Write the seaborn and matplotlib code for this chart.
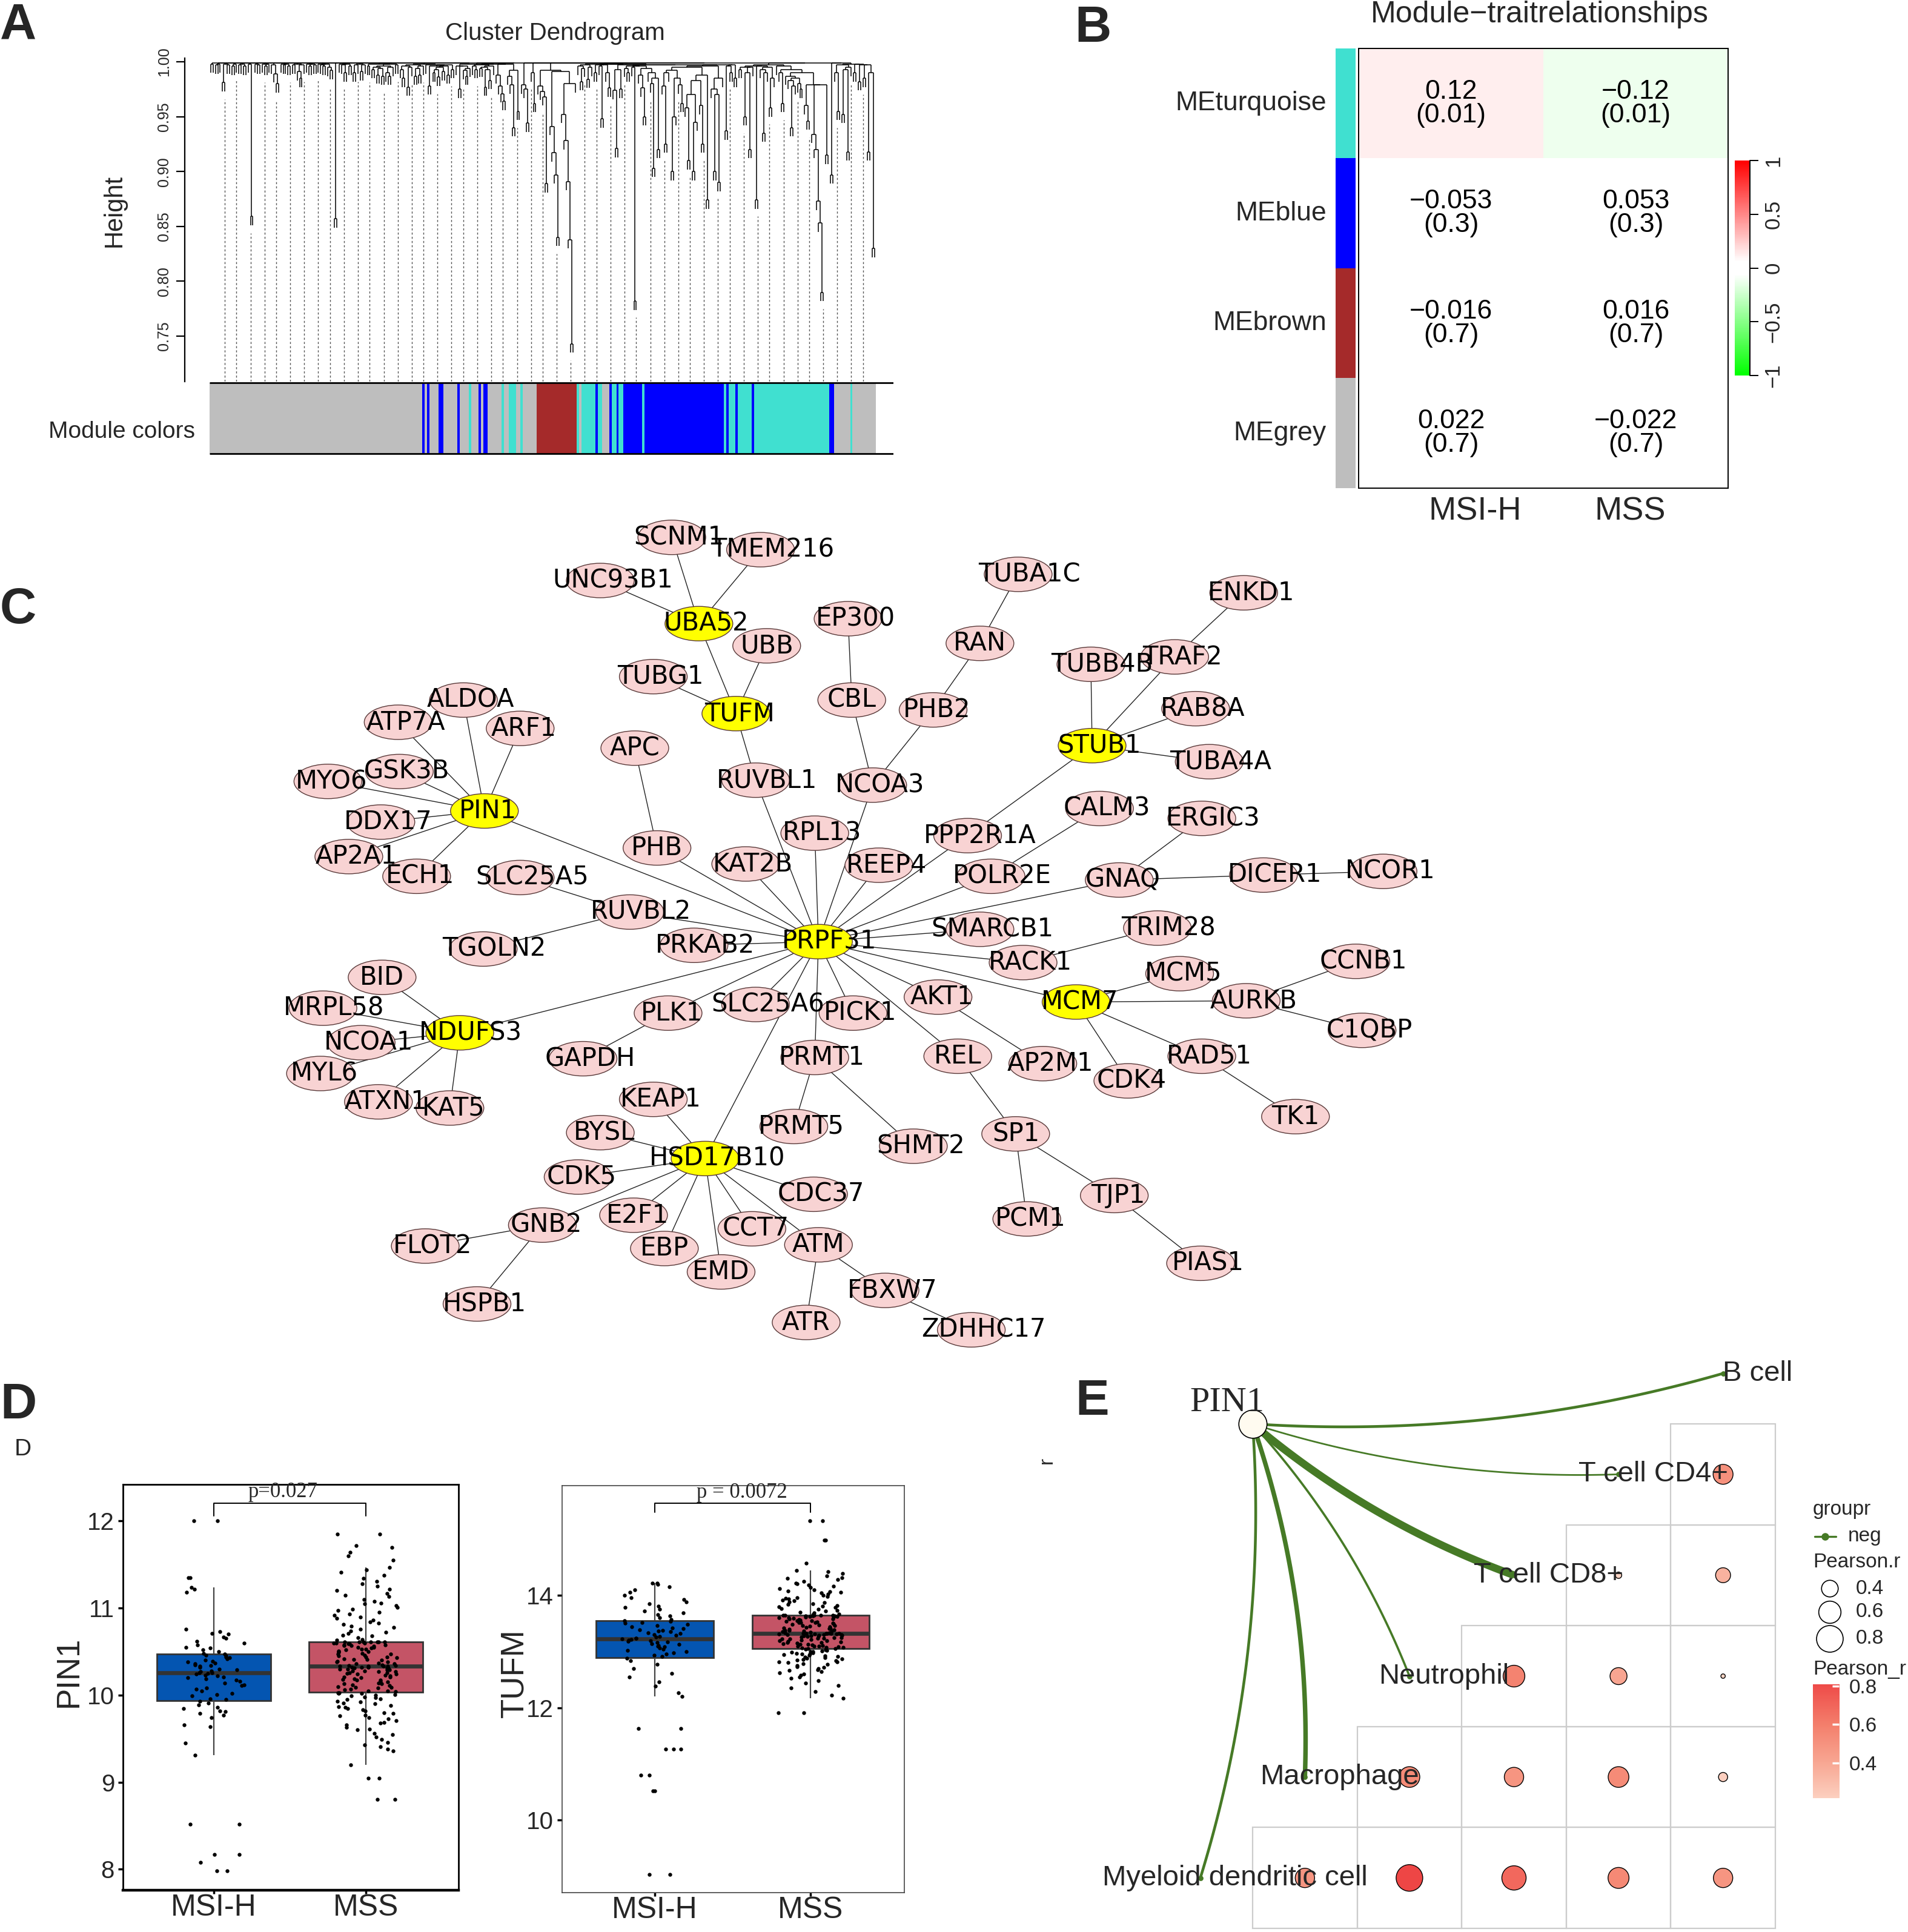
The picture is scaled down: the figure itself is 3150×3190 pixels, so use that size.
import sys
import numpy as np
import pandas as pd
import matplotlib
matplotlib.use("Agg")
import matplotlib.pyplot as plt
from matplotlib.collections import LineCollection
from matplotlib.colors import LinearSegmentedColormap, ListedColormap, Normalize
from matplotlib.patches import Ellipse, Rectangle
from matplotlib.lines import Line2D
import seaborn as sns

sys.setrecursionlimit(5000)

# ---------------- A: gene dendrogram ----------------
# merge height (x1000) between each pair of neighbouring leaves, left to right
dendro_gaps = [
    998, 999, 997, 998, 999, 981,
    998, 997, 999, 996, 998, 999, 997, 998, 996, 999, 998, 859,
    999, 998, 997, 999, 998, 996, 998, 999, 997, 989, 980,
    999, 998, 997, 998, 996, 999, 997, 998, 991, 985, 997,
    999, 998, 996, 998, 997, 999, 998, 997, 996, 998,
    995, 992, 999, 857, 999, 998,
    997, 990, 998, 996, 999, 990, 997, 998, 991, 997, 999, 996, 998, 993, 995,
    988, 994, 987, 996, 990, 987, 995, 998, 997, 999,
    993, 985, 996, 977, 995, 997, 987, 994, 988, 996, 998, 997, 978,
    996, 990, 993, 986, 995, 991, 996, 988, 997, 993, 999, 996, 975,
    996, 992, 987, 994, 998, 996, 993, 997, 994, 995, 977,
    993, 983, 996, 998, 988, 978, 971, 964, 998, 987, 979, 940, 992, 955,
    999, 979, 975, 944, 999, 990, 962, 999,
    978, 973, 968, 889, 992, 941, 917, 897, 840, 991, 952, 928, 891, 838, 743, 980, 999,
    996, 982, 994, 997, 984, 995, 998, 990, 997, 996, 948, 997,
    990, 976, 998, 974, 921, 993, 975, 997, 994, 990, 996, 995, 782,
    996, 988, 976, 950, 994, 990, 980, 903, 985, 920, 997, 978, 925, 990,
    992, 900, 950, 985, 979, 962, 995, 958, 910, 970, 900, 945, 983, 960, 925, 988, 874,
    996, 975, 900, 970, 890, 985, 997, 937, 996,
    990, 997, 985, 999, 993, 995, 950, 990, 920, 995, 996, 874, 996,
    993, 935, 990, 995, 958, 985, 997,
    996, 990, 962, 993, 987, 983, 940, 978, 985, 980, 975, 990,
    960, 946, 979, 934, 920, 873, 853, 790, 979, 915, 999, 897, 999,
    990, 955, 997, 952, 993, 918, 995, 998, 990, 998, 982, 997, 985, 997,
    918, 990, 830,
]
module_run_colors = ["grey", "blue", "grey", "blue", "grey", "blue", "grey", "blue", "grey", "turquoise",
                     "grey", "blue", "grey", "blue", "grey", "turquoise", "grey", "turquoise", "grey", "turquoise",
                     "grey", "brown", "turquoise", "grey", "turquoise", "blue", "turquoise", "grey", "blue", "turquoise",
                     "blue", "turquoise", "blue", "turquoise", "blue", "turquoise", "blue", "turquoise", "blue", "turquoise",
                     "blue", "turquoise", "blue", "grey", "turquoise", "grey"]
module_run_lengths = [91, 1, 1, 1, 4, 2, 6, 1, 4, 1, 3, 1, 1, 2, 6, 1, 2, 3, 2, 1, 6, 17, 1, 1, 6, 1, 2, 3, 1, 2,
                      1, 2, 8, 1, 34, 1, 1, 3, 1, 6, 1, 32, 2, 7, 1, 10]
module_palette = {"grey": "#BEBEBE", "blue": "#0000FF", "turquoise": "#40E0D0", "brown": "#A52A2A"}

# ---------------- B: module-trait ----------------
trait_names = ["MSI-H", "MSS"]
module_names = ["MEturquoise", "MEblue", "MEbrown", "MEgrey"]
module_colors = ["turquoise", "blue", "brown", "grey"]
module_cor = [[0.12, -0.12], [-0.053, 0.053], [-0.016, 0.016], [0.022, -0.022]]
module_p = [["0.01", "0.01"], ["0.3", "0.3"], ["0.7", "0.7"], ["0.7", "0.7"]]

# ---------------- C: PPI network (layout) ----------------
gene_names = ["SCNM1", "TMEM216", "UNC93B1", "UBA52", "UBB", "TUBG1", "TUFM", "EP300", "CBL", "TUBA1C",
              "RAN", "PHB2", "ENKD1", "TRAF2", "TUBB4B", "RAB8A", "STUB1", "TUBA4A", "ALDOA", "ATP7A",
              "ARF1", "APC", "GSK3B", "MYO6", "PIN1", "DDX17", "AP2A1", "ECH1", "RUVBL1", "NCOA3",
              "RPL13", "PHB", "KAT2B", "PPP2R1A", "CALM3", "ERGIC3", "REEP4", "POLR2E", "GNAQ", "DICER1",
              "NCOR1", "SLC25A5", "RUVBL2", "TGOLN2", "PRKAB2", "PRPF31", "SMARCB1", "TRIM28", "RACK1", "BID",
              "MRPL58", "NDUFS3", "NCOA1", "MYL6", "ATXN1", "KAT5", "PLK1", "SLC25A6", "PICK1", "GAPDH",
              "AKT1", "MCM5", "MCM7", "CCNB1", "AURKB", "C1QBP", "REL", "AP2M1", "RAD51", "CDK4",
              "TK1", "PRMT1", "KEAP1", "BYSL", "PRMT5", "SHMT2", "SP1", "HSD17B10", "CDK5", "CDC37",
              "TJP1", "E2F1", "GNB2", "CCT7", "PCM1", "FLOT2", "EBP", "ATM", "EMD", "PIAS1",
              "FBXW7", "HSPB1", "ATR", "ZDHHC17"]
gene_x = [545, 617, 487, 567, 622, 530, 597, 688, 691, 826,
          795, 757, 1009, 953, 885, 970, 886, 981, 376, 323,
          422, 515, 324, 266, 393, 309, 283, 338, 613, 708,
          661, 533, 605, 785, 892, 975, 713, 804, 908, 1025,
          1122, 422, 511, 392, 563, 664, 795, 939, 830, 310,
          262, 373, 293, 260, 307, 365, 542, 613, 692, 473,
          761, 957, 873, 1100, 1011, 1105, 777, 846, 975, 915,
          1051, 661, 530, 487, 644, 741, 824, 572, 469, 660,
          904, 514, 440, 610, 833, 345, 539, 664, 585, 974,
          718, 387, 654, 788]
gene_y = [436, 446, 471, 506, 524, 549, 579, 502, 568, 466,
          522, 576, 481, 533, 539, 575, 605, 618, 568, 586,
          591, 607, 626, 634, 658, 667, 695, 711, 633, 637,
          676, 688, 701, 678, 656, 664, 702, 711, 714, 710,
          707, 712, 740, 770, 767, 764, 754, 753, 781, 793,
          818, 838, 846, 871, 894, 899, 822, 815, 822, 859,
          809, 790, 813, 780, 812, 836, 857, 863, 857, 877,
          906, 858, 892, 919, 914, 930, 920, 940, 955, 969,
          970, 986, 994, 997, 989, 1011, 1013, 1010, 1032, 1025,
          1047, 1058, 1073, 1079]
hub_genes = ["UBA52", "TUFM", "STUB1", "PIN1", "PRPF31", "NDUFS3", "MCM7", "HSD17B10"]
ppi_edges = [
    ("PIN1", "ALDOA"), ("PIN1", "ATP7A"), ("PIN1", "ARF1"), ("PIN1", "GSK3B"), ("PIN1", "MYO6"),
    ("PIN1", "DDX17"), ("PIN1", "AP2A1"), ("PIN1", "ECH1"), ("PIN1", "PRPF31"),
    ("UBA52", "SCNM1"), ("UBA52", "TMEM216"), ("UBA52", "UNC93B1"), ("UBA52", "TUFM"),
    ("TUFM", "TUBG1"), ("TUFM", "UBB"), ("TUFM", "RUVBL1"), ("RUVBL1", "PRPF31"),
    ("APC", "PHB"), ("PHB", "PRPF31"), ("EP300", "CBL"), ("CBL", "NCOA3"), ("NCOA3", "PRPF31"),
    ("PHB2", "NCOA3"), ("RAN", "PHB2"), ("TUBA1C", "RAN"),
    ("STUB1", "TUBB4B"), ("STUB1", "TRAF2"), ("STUB1", "RAB8A"), ("STUB1", "TUBA4A"),
    ("STUB1", "PPP2R1A"), ("TRAF2", "ENKD1"), ("PPP2R1A", "PRPF31"), ("CALM3", "POLR2E"),
    ("POLR2E", "PRPF31"), ("ERGIC3", "GNAQ"), ("GNAQ", "DICER1"), ("DICER1", "NCOR1"),
    ("GNAQ", "PRPF31"), ("REEP4", "PRPF31"), ("RPL13", "PRPF31"), ("KAT2B", "PRPF31"),
    ("SLC25A5", "RUVBL2"), ("RUVBL2", "PRPF31"), ("RUVBL2", "TGOLN2"), ("PRKAB2", "PRPF31"),
    ("SMARCB1", "PRPF31"), ("RACK1", "PRPF31"), ("RACK1", "TRIM28"), ("MCM7", "PRPF31"),
    ("AKT1", "PRPF31"), ("AKT1", "AP2M1"), ("REL", "PRPF31"), ("PRMT1", "SHMT2"),
    ("PRMT1", "PRMT5"), ("PRMT1", "PRPF31"), ("MCM7", "MCM5"), ("MCM7", "AURKB"),
    ("MCM7", "CDK4"), ("MCM7", "RAD51"), ("AURKB", "CCNB1"), ("AURKB", "C1QBP"), ("RAD51", "TK1"),
    ("REL", "SP1"), ("SP1", "PCM1"), ("SP1", "TJP1"), ("TJP1", "PIAS1"),
    ("PICK1", "PRPF31"), ("SLC25A6", "PRPF31"), ("PLK1", "PRPF31"), ("PLK1", "GAPDH"),
    ("NDUFS3", "BID"), ("NDUFS3", "MRPL58"), ("NDUFS3", "NCOA1"), ("NDUFS3", "MYL6"),
    ("NDUFS3", "ATXN1"), ("NDUFS3", "KAT5"), ("NDUFS3", "PRPF31"),
    ("HSD17B10", "KEAP1"), ("HSD17B10", "BYSL"), ("HSD17B10", "CDK5"), ("HSD17B10", "GNB2"),
    ("HSD17B10", "E2F1"), ("HSD17B10", "EBP"), ("HSD17B10", "EMD"), ("HSD17B10", "CCT7"),
    ("HSD17B10", "ATM"), ("HSD17B10", "CDC37"), ("HSD17B10", "PRPF31"),
    ("GNB2", "FLOT2"), ("GNB2", "HSPB1"), ("ATM", "ATR"), ("ATM", "FBXW7"), ("FBXW7", "ZDHHC17"),
]

# ---------------- D: expression by MSI status ----------------
groups = ["MSI-H", "MSS"]
group_colors = {"MSI-H": "#0455B1", "MSS": "#C45466"}
pin1_msih = [7.98, 7.98, 8.08, 8.17, 8.17, 8.52, 8.52, 9.31, 9.45, 9.64, 9.66, 9.74, 9.77, 9.79,
             9.81, 9.82, 9.85, 9.86, 9.89, 9.91, 9.93, 9.95, 9.96, 9.99, 10.01, 10.02, 10.05,
             10.07, 10.08, 10.11, 10.12, 10.14, 10.16, 10.17, 10.19, 10.20, 10.21, 10.22, 10.23,
             10.24, 10.25, 10.26, 10.26, 10.27, 10.28, 10.29, 10.30, 10.32, 10.33, 10.34, 10.35,
             10.36, 10.37, 10.38, 10.39, 10.40, 10.42, 10.43, 10.44, 10.45, 10.46, 10.47, 10.48,
             10.50, 10.52, 10.54, 10.55, 10.58, 10.60, 10.62, 10.65, 10.67, 10.70, 10.71, 10.73,
             10.76, 11.18, 11.22, 11.24, 11.35, 11.35, 12.00, 12.00]
pin1_mss = [8.80, 8.80, 9.05, 9.05, 9.20, 9.36, 9.38, 9.41, 9.43, 9.46,
            9.49, 9.52, 9.55, 9.56, 9.60, 9.61, 9.63, 9.66, 9.68, 9.69,
            9.71, 9.73, 9.74, 9.76, 9.77, 9.79, 9.80, 9.82, 9.83, 9.85,
            9.86, 9.87, 9.88, 9.90, 9.91, 9.92, 9.93, 9.95, 9.96, 9.97,
            9.98, 9.99, 10.00, 10.01, 10.02, 10.02, 10.03, 10.03,
            10.04, 10.05, 10.05, 10.06, 10.07, 10.08, 10.09, 10.09, 10.10, 10.11,
            10.12, 10.13, 10.13, 10.14, 10.15, 10.16, 10.17, 10.17, 10.18, 10.19,
            10.20, 10.21, 10.21, 10.22, 10.23, 10.24, 10.24, 10.25, 10.26, 10.26,
            10.27, 10.27, 10.28, 10.28, 10.29, 10.29, 10.30, 10.30, 10.31, 10.31,
            10.31, 10.32, 10.32, 10.32, 10.33, 10.33, 10.33, 10.33,
            10.34, 10.34, 10.35, 10.36, 10.36, 10.37, 10.38, 10.38, 10.39, 10.40,
            10.41, 10.41, 10.42, 10.43, 10.44, 10.44, 10.45, 10.46, 10.47, 10.47,
            10.48, 10.49, 10.50, 10.50, 10.51, 10.52, 10.53, 10.53, 10.54, 10.55,
            10.55, 10.56, 10.57, 10.57, 10.58, 10.58, 10.59, 10.59, 10.60, 10.60,
            10.60, 10.61, 10.61, 10.61, 10.61, 10.61, 10.61, 10.61,
            10.63, 10.64, 10.66, 10.68, 10.69, 10.71, 10.72, 10.74, 10.76, 10.78,
            10.79, 10.81, 10.83, 10.84, 10.86, 10.88, 10.90, 10.92, 10.93, 10.95,
            10.97, 10.99, 11.01, 11.03, 11.05, 11.06, 11.08, 11.10, 11.13, 11.15,
            11.17, 11.20, 11.22, 11.25, 11.28, 11.31, 11.34, 11.38, 11.41, 11.44,
            11.47, 11.55, 11.60, 11.64, 11.70, 11.72, 11.85, 11.85]
tufm_msih = [9.03, 9.03, 10.52, 10.52, 10.80, 10.80, 11.26, 11.26, 11.26, 11.63,
             11.63, 12.20, 12.26, 12.38, 12.46, 12.55, 12.61, 12.70, 12.77, 12.84,
             12.88, 12.91, 12.93, 12.95, 12.98, 13.00, 13.02, 13.04, 13.06, 13.08,
             13.10, 13.11, 13.13, 13.14, 13.16, 13.17, 13.18, 13.19, 13.20, 13.21,
             13.22, 13.23, 13.24, 13.26, 13.27, 13.29, 13.30, 13.32, 13.33, 13.35,
             13.36, 13.38, 13.39, 13.41, 13.42, 13.44, 13.46, 13.48, 13.50, 13.52,
             13.54, 13.55, 13.57, 13.60, 13.63, 13.66, 13.69, 13.72, 13.75, 13.78,
             13.81, 13.85, 13.88, 13.92, 13.96, 14.00, 14.05, 14.10, 14.15, 14.19,
             14.22, 14.22]
tufm_mss = [11.91, 11.91, 12.17, 12.22, 12.29, 12.35, 12.40, 12.44, 12.48, 12.52,
            12.55, 12.58, 12.60, 12.62, 12.64, 12.66, 12.68, 12.70, 12.72, 12.73,
            12.75, 12.77, 12.78, 12.80, 12.81, 12.82, 12.84, 12.85, 12.86, 12.87,
            12.88, 12.89, 12.90, 12.91, 12.92, 12.93, 12.94, 12.95, 12.96, 12.97,
            12.98, 12.99, 13.00, 13.00, 13.01, 13.02, 13.03, 13.04,
            13.05, 13.05, 13.06, 13.07, 13.07, 13.08, 13.09, 13.10, 13.10, 13.11,
            13.12, 13.13, 13.13, 13.14, 13.15, 13.16, 13.16, 13.17, 13.18, 13.19,
            13.19, 13.20, 13.21, 13.22, 13.22, 13.23, 13.24, 13.25, 13.25, 13.26,
            13.27, 13.27, 13.28, 13.28, 13.29, 13.29, 13.30, 13.30, 13.30, 13.31,
            13.31, 13.31, 13.32, 13.32, 13.32, 13.32, 13.32, 13.32,
            13.33, 13.33, 13.34, 13.35, 13.36, 13.36, 13.37, 13.38, 13.39, 13.40,
            13.41, 13.41, 13.42, 13.43, 13.44, 13.45, 13.46, 13.46, 13.47, 13.48,
            13.49, 13.50, 13.51, 13.51, 13.52, 13.53, 13.54, 13.55, 13.55, 13.56,
            13.57, 13.58, 13.58, 13.59, 13.60, 13.60, 13.61, 13.61, 13.62, 13.62,
            13.63, 13.63, 13.63, 13.64, 13.64, 13.64, 13.64, 13.64,
            13.66, 13.67, 13.69, 13.70, 13.72, 13.73, 13.75, 13.76, 13.78, 13.79,
            13.81, 13.82, 13.84, 13.85, 13.87, 13.88, 13.90, 13.91, 13.93, 13.95,
            13.96, 13.98, 14.00, 14.02, 14.04, 14.06, 14.08, 14.10, 14.12, 14.14,
            14.16, 14.18, 14.20, 14.22, 14.25, 14.28, 14.31, 14.35, 14.39, 14.42,
            14.44, 14.57, 14.98, 14.98, 15.33, 15.33, 14.30, 14.05]
pin1_p = "p=0.027"
tufm_p = "p = 0.0072"

# ---------------- E: immune cell correlation ----------------
immune_cells = ["B cell", "T cell CD4+", "T cell CD8+", "Neutrophil", "Macrophage", "Myeloid dendritic cell"]
pearson_r = [[],
             [0.51],
             [0.35, 0.18],
             [0.16, 0.41, 0.58],
             [0.22, 0.54, 0.49, 0.54],
             [0.49, 0.55, 0.69, 0.83, 0.49]]
link_strength = [0.35, 0.21, 0.96, 0.28, 0.57, 0.35]

# ---------------- figure ----------------
sns.set_theme(style="white")
plt.rcParams["font.family"] = ["Liberation Sans", "DejaVu Sans"]
plt.rcParams["axes.unicode_minus"] = True

W, H = 3150, 3190
fig = plt.figure(figsize=(W / 200, H / 200), dpi=200)
fig.patch.set_facecolor("white")


def box(x0, y0, x1, y1):
    return fig.add_axes([x0 / W, 1 - y1 / H, (x1 - x0) / W, (y1 - y0) / H])


def ftext(x, y, s, **kw):
    return fig.text(x / W, 1 - y / H, s, **kw)


MINUS = "\u2212"

# ---- A ----
gaps = np.array(dendro_gaps) / 1000.0
n_leaf = len(gaps) + 1
hang = 0.008
leaf_bottom = np.zeros(n_leaf)
segs = []


def build(lo, hi):
    if lo == hi:
        return lo + 0.5, None
    k = lo + int(np.argmax(gaps[lo:hi]))
    h = gaps[k]
    xl, hl = build(lo, k)
    xr, hr = build(k + 1, hi)
    for x_, h_, leaf in ((xl, hl, lo), (xr, hr, hi)):
        if h_ is None:
            h_ = h - hang
            leaf_bottom[leaf] = h_
        segs.append([(x_, h_), (x_, h)])
    segs.append([(xl, h), (xr, h)])
    return (xl + xr) / 2, h


build(0, n_leaf - 1)
per = (1446 - 346) / n_leaf
xlo, xhi = -(346 - 305) / per, n_leaf + (1475 - 1446) / per
ylo = 1 - (630 - 102) / 1812
yhi = 1 + (102 - 96) / 1812

ax_a = box(305, 96, 1475, 630)
ax_a.add_collection(LineCollection(segs, colors="black", linewidths=0.55))
guide_idx = np.round(np.arange(1, 50) * n_leaf / 50).astype(int)
ax_a.vlines(guide_idx + 0.5, ylo, leaf_bottom[guide_idx] - 0.007, colors="#555555",
            linestyles=(0, (2.5, 2.5)), linewidth=0.5)
ax_a.set_xlim(xlo, xhi)
ax_a.set_ylim(ylo, yhi)
for s in ["top", "right", "bottom"]:
    ax_a.spines[s].set_visible(False)
ax_a.spines["left"].set_color("black")
ax_a.spines["left"].set_linewidth(0.8)
ax_a.set_xticks([])
ax_a.set_yticks([0.75, 0.80, 0.85, 0.90, 0.95, 1.00])
ax_a.set_yticklabels(["0.75", "0.80", "0.85", "0.90", "0.95", "1.00"], rotation=90, va="center", fontsize=9)
ax_a.tick_params(axis="y", length=5, width=0.8, pad=3, color="black", left=True)
ax_a.set_facecolor("none")

ax_m = box(305, 630, 1475, 751)
scale = n_leaf / sum(module_run_lengths)
starts = np.concatenate([[0], np.cumsum(module_run_lengths)[:-1]]) * scale
ax_m.bar(starts, [1] * len(starts), width=np.array(module_run_lengths) * scale, align="edge",
         color=[module_palette[c] for c in module_run_colors], linewidth=0)
ax_m.hlines([0, 1], 0, xhi, colors="black", linewidth=1.0)
ax_m.set_xlim(xlo, xhi)
ax_m.set_ylim(-0.02, 1.02)
ax_m.axis("off")

ftext(916, 55, "Cluster Dendrogram", ha="center", va="center", fontsize=14.5)
ftext(189, 348, "Height", ha="center", va="center", rotation=90, fontsize=15)
ftext(201, 713, "Module colors", ha="center", va="center", fontsize=14)

# ---- B ----
gwr = LinearSegmentedColormap.from_list(
    "gwr", [(0, "#00FF00"), (0.47, "#FFFFFF"), (0.53, "#FFFFFF"), (1, "#FF0000")])
cor_df = pd.DataFrame(module_cor, index=module_names, columns=trait_names)
annot = np.array([[f"{c:g}".replace("-", MINUS) + f"\n({p})" for c, p in zip(cr, pr)]
                  for cr, pr in zip(module_cor, module_p)])
ax_b = box(2243, 80, 2853, 806)
sns.heatmap(cor_df, cmap=gwr, vmin=-1, vmax=1, annot=annot, fmt="", cbar=False,
            annot_kws={"fontsize": 16, "color": "black", "linespacing": 0.95}, ax=ax_b)
ax_b.set_yticks([])
ax_b.set_xticks([0.63, 1.47])
ax_b.set_xticklabels(trait_names, fontsize=19.5, rotation=0)
ax_b.tick_params(axis="x", length=0, pad=5)
ax_b.set_xlabel("")
ax_b.set_ylabel("")
for s in ax_b.spines.values():
    s.set_visible(True)
    s.set_color("black")
    s.set_linewidth(0.7)

ax_s = box(2205, 80, 2238, 806)
strip_df = pd.DataFrame({"m": np.arange(len(module_names))}, index=module_names)
sns.heatmap(strip_df, cmap=ListedColormap([module_palette[c] for c in module_colors]),
            vmin=-0.5, vmax=len(module_names) - 0.5, cbar=False, xticklabels=False, yticklabels=True, ax=ax_s)
ax_s.set_ylabel("")
ax_s.tick_params(axis="y", length=0, pad=5.5, labelsize=16)
for lab in ax_s.get_yticklabels():
    lab.set_rotation(0)

cax_b = box(2864, 265, 2889, 620)
cb = fig.colorbar(plt.cm.ScalarMappable(norm=Normalize(-1, 1), cmap=gwr), cax=cax_b,
                  ticks=[-1, -0.5, 0, 0.5, 1])
cb.outline.set_visible(False)
cb.ax.set_yticklabels([MINUS + "1", MINUS + "0.5", "0", "0.5", "1"], rotation=90, va="center", fontsize=12.5)
cb.ax.tick_params(length=5, width=0.7, pad=3, color="black")
cb.ax.add_line(Line2D([1, 1], [0, 1], transform=cb.ax.transAxes, color="black", linewidth=0.7, clip_on=False))
ftext(2542, 24, "Module" + MINUS + "traitrelationships", ha="center", va="center", fontsize=18)

# ---- C ----
ax_c = box(400, 840, 2450, 2260)
ax_c.set_xlim(400 / 2.035, 2450 / 2.035)
ax_c.set_ylim(2260 / 2.035, 840 / 2.035)
ax_c.axis("off")
pos = {g: (x, y) for g, x, y in zip(gene_names, gene_x, gene_y)}
ax_c.add_collection(LineCollection([[pos[a], pos[b]] for a, b in ppi_edges],
                                   colors="#222222", linewidths=0.5, zorder=1))
for g in gene_names:
    x, y = pos[g]
    face = "#FFFF00" if g in hub_genes else "#F8D3D3"
    ax_c.add_patch(Ellipse((x, y), 55, 28, facecolor=face, edgecolor="#5A3A3A", linewidth=0.5, zorder=2))
    dx = min(10, max(0, len(g) - 3) * 3)
    ax_c.text(x + dx, y, g, ha="center", va="center", fontsize=15,
              family=["DejaVu Sans"], color="black", zorder=3)

# ---- D ----
np.random.seed(3)


def expr_panel(ax, msih, mss):
    df = pd.DataFrame({"group": ["MSI-H"] * len(msih) + ["MSS"] * len(mss), "value": msih + mss})
    sns.boxplot(data=df, x="group", y="value", hue="group", order=groups, hue_order=groups,
                palette=group_colors, saturation=1, width=0.75, showcaps=False, showfliers=False,
                linecolor="#333333", linewidth=1.0, legend=False,
                medianprops={"linewidth": 2.4, "color": "#333333"},
                whiskerprops={"linewidth": 0.8, "color": "#444444"}, ax=ax)
    sns.stripplot(data=df, x="group", y="value", order=groups, color="black", size=2.3,
                  jitter=0.21, ax=ax, zorder=3)
    ax.set_xlabel("")
    ax.set_ylabel("")
    ax.tick_params(axis="x", length=2, pad=0, labelsize=18, bottom=True, color="black")
    ax.tick_params(axis="y", length=3, pad=2, labelsize=14.5, left=True, color="black")


ax_d1 = box(203, 2451, 757, 3121)
expr_panel(ax_d1, pin1_msih, pin1_mss)
ax_d1.set_xlim(-0.598, 1.609)
ax_d1.set_ylim(7.76, 12.42)
ax_d1.set_yticks([8, 9, 10, 11, 12])
for s in ax_d1.spines.values():
    s.set_visible(True)
    s.set_color("black")
    s.set_linewidth(1.0)
ax_d1.spines["bottom"].set_linewidth(1.6)
ax_d1.plot([0, 0, 1, 1], [12.06, 12.207, 12.207, 12.06], color="black", linewidth=0.7)
ax_d1.text(0.454, 12.215, pin1_p, ha="center", va="bottom", fontsize=12.5,
           family=["Liberation Serif", "DejaVu Serif"])

ax_d2 = box(928, 2453, 1493, 3125)
expr_panel(ax_d2, tufm_msih, tufm_mss)
ax_d2.set_xlim(-0.594, 1.60)
ax_d2.set_ylim(8.71, 15.95)
ax_d2.set_yticks([10, 12, 14])
for s in ax_d2.spines.values():
    s.set_visible(True)
    s.set_color("#444444")
    s.set_linewidth(0.6)
ax_d2.plot([0, 0, 1, 1], [15.48, 15.64, 15.64, 15.48], color="black", linewidth=0.7)
ax_d2.text(0.56, 15.65, tufm_p, ha="center", va="bottom", fontsize=12.5,
           family=["Liberation Serif", "DejaVu Serif"])

ftext(114, 2760, "PIN1", ha="center", va="center", rotation=90, fontsize=19)
ftext(849, 2763, "TUFM", ha="center", va="center", rotation=90, fontsize=19)
ftext(38, 2393, "D", ha="center", va="center", fontsize=14)

# ---- E ----
cw, rh = 172.6, 166.6
ax_e = box(1800, 2200, 3150, 3190)
n_cell = len(immune_cells)
cell_rows = []
for i in range(1, n_cell):
    for j in range(i):
        ax_e.add_patch(Rectangle((n_cell - 2 - j, i - 1), 1, 1, fill=False, edgecolor="#CCCCCC",
                                 linewidth=0.8, zorder=1))
        cell_rows.append({"x": n_cell - 1.5 - j, "y": i - 0.5, "r": pearson_r[i][j]})
cell_df = pd.DataFrame(cell_rows)
cmap_e = LinearSegmentedColormap.from_list(
    "pr", [(0, "#FDD3C3"), (0.3125, "#F8A793"), (0.625, "#F47F6C"), (1, "#EE4444")])
link_green = "#467A26"
start = np.array([0.0, 0.0])
t = np.linspace(0, 1, 100)[:, None]
for k, name in enumerate(immune_cells):
    end = np.array([n_cell - 1.5 - k, k - 0.5])
    d = end - start
    nrm = np.array([-d[1], d[0]])
    if nrm.sum() < 0:
        nrm = -nrm
    ctrl = (start + end) / 2 + 0.09 * nrm
    pts = (1 - t) ** 2 * start + 2 * (1 - t) * t * ctrl + t ** 2 * end
    ax_e.plot(pts[:, 0], pts[:, 1], color=link_green, linewidth=4.7 * link_strength[k],
              solid_capstyle="butt", zorder=2)
    ax_e.scatter([end[0]], [end[1]], s=10, color=link_green, zorder=2, linewidths=0)
    ax_e.text(end[0] + 0.33, end[1], name, ha="center", va="center", fontsize=17, zorder=5)
sns.scatterplot(data=cell_df, x="x", y="y", hue="r", size="r", palette=cmap_e, hue_norm=(0.2, 0.84),
                sizes=(0, 250), size_norm=(0.142, 0.8), edgecolor="black", linewidth=0.5,
                legend=False, ax=ax_e, zorder=4)
ax_e.scatter([0], [0], s=280, color="#FFFBF0", edgecolors="black", linewidths=0.6, zorder=6)
ax_e.text((2026 - 2068) / cw, (2316 - 2351) / rh, "PIN1", ha="center", va="center", fontsize=21,
          family=["Liberation Serif", "DejaVu Serif"], zorder=7)

# legends
legend_r = [0.4, 0.6, 0.8]
leg_df = pd.DataFrame({"x": [(3021 - 2068) / cw] * 3,
                       "y": [(2623 - 2351) / rh, (2662 - 2351) / rh, (2706 - 2351) / rh],
                       "r": legend_r})
sns.scatterplot(data=leg_df, x="x", y="y", size="r", sizes=(0, 250), size_norm=(0.142, 0.8),
                color="white", edgecolor="black", linewidth=0.6, legend=False, ax=ax_e, zorder=4)
ax_e.set_xlim((1800 - 2068) / cw, (3150 - 2068) / cw)
ax_e.set_ylim((3190 - 2351) / rh, (2200 - 2351) / rh)
ax_e.axis("off")
for v, yy in zip(legend_r, [2623, 2662, 2706]):
    ftext(3064, yy, f"{v:.1f}", ha="left", va="center", fontsize=12)
ftext(2993, 2493, "groupr", ha="left", va="center", fontsize=12)
fig.add_artist(Line2D([2996 / W, 3031 / W], [1 - 2537 / H] * 2, color=link_green, linewidth=1.2))
fig.add_artist(Line2D([3013 / W], [1 - 2537 / H], marker="o", markersize=3.5, color=link_green))
ftext(3051, 2537, "neg", ha="left", va="center", fontsize=12)
ftext(2993, 2580, "Pearson.r", ha="left", va="center", fontsize=12)
ftext(2993, 2757, "Pearson_r", ha="left", va="center", fontsize=12)

cax_e = box(2993, 2781, 3036, 2969)
grad = np.linspace(0.215, 0.81, 256)[:, None]
cax_e.imshow(grad, aspect="auto", cmap=cmap_e, norm=Normalize(0.2, 0.84), origin="lower",
             extent=[0, 1, 0.215, 0.81])
cax_e.set_xticks([])
cax_e.yaxis.tick_right()
cax_e.set_yticks([0.4, 0.6, 0.8])
cax_e.set_yticklabels(["0.4", "0.6", "0.8"], fontsize=12)
cax_e.tick_params(axis="y", direction="in", length=4, color="white", pad=6, right=True)
for s in cax_e.spines.values():
    s.set_visible(False)

ftext(1728, 2411, "r", ha="center", va="center", rotation=90, fontsize=12)

# panel letters
for lab, x, y in [("A", 30, 43), ("B", 1805, 47), ("C", 30, 1007), ("D", 30, 2320), ("E", 1803, 2314)]:
    ftext(x, y, lab, ha="center", va="center", fontsize=30, fontweight="bold")

fig.savefig("out.png", dpi=200, facecolor="white")
